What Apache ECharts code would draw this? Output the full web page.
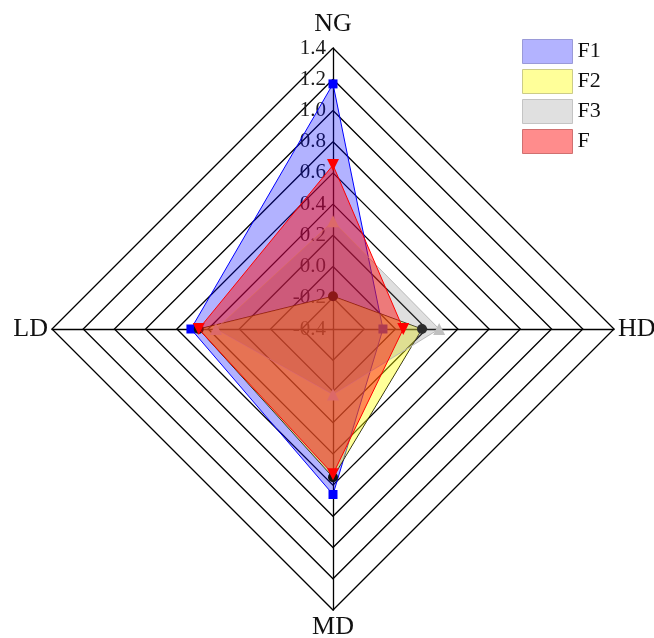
<!DOCTYPE html>
<html>
  <head>
    <meta charset="utf-8" />
    <title>Radar F1 F2 F3 F</title>
    <script src="https://cdn.jsdelivr.net/npm/echarts@6/dist/echarts.min.js"></script>
    <style>
      body { margin: 0; background: #fff; }
      #chart { width: 654px; height: 638px; }
    </style>
  </head>
  <body>
    <div id="chart"></div>
    <script>
      // axes go counter-clockwise from the top: NG, LD, MD, HD
      const indicators = ['NG', 'LD', 'MD', 'HD'];
      const seriesNames = ['F1', 'F2', 'F3', 'F'];
      const valuesF1 = [1.17, 0.51, 0.66, -0.08];
      const valuesF2 = [-0.19, 0.46, 0.55, 0.17];
      const valuesF3 = [0.29, 0.35, 0.02, 0.28];
      const valuesF = [0.65, 0.46, 0.53, 0.05];
      const axisMin = -0.4;
      const axisMax = 1.4;
      const tickStep = 0.2;

      const font = 'Liberation Serif';
      const cx = 333, cy = 329, radius = 281;

      const looks = [
        { line: '#0000ff', fill: 'rgba(0,0,255,0.3)', sym: 'rect', size: 9, mark: '#0000ff', legend: '#b3b3ff', border: '#9a9ad8' },
        { line: '#111111', fill: 'rgba(255,255,0,0.4)', sym: 'circle', size: 10, mark: '#111111', legend: '#ffff99', border: '#cccc88' },
        { line: '#c4c4c4', fill: 'rgba(128,128,128,0.25)', sym: 'triangle', size: 12, mark: '#c0c0c0', legend: '#e0e0e0', border: '#c4c4c4' },
        { line: '#ff0000', fill: 'rgba(255,0,0,0.45)', sym: 'triangle', size: 12, rot: 180, mark: '#ff0000', legend: '#ff8c8c', border: '#d07070' }
      ];
      const allValues = [valuesF1, valuesF2, valuesF3, valuesF];

      const chart = echarts.init(document.getElementById('chart'));
      chart.setOption({
        animation: false,
        backgroundColor: '#fff',
        legend: {
          orient: 'vertical',
          left: 517,
          top: 34,
          itemWidth: 50,
          itemHeight: 24,
          itemGap: 5,
          icon: 'rect',
          textStyle: { fontFamily: font, fontSize: 22, color: '#111' },
          data: seriesNames.map((n, i) => ({
            name: n,
            itemStyle: { color: looks[i].legend, borderColor: looks[i].border, borderWidth: 1 }
          }))
        },
        grid: { left: cx, top: cy - radius, height: radius, width: 1 },
        xAxis: { type: 'value', show: false },
        yAxis: {
          type: 'value',
          min: axisMin,
          max: axisMax,
          interval: tickStep,
          axisLine: { show: false },
          axisTick: { show: false },
          splitLine: { show: false },
          axisLabel: {
            margin: 7,
            fontFamily: font,
            fontSize: 21,
            color: '#1a1a1a',
            formatter: v => v.toFixed(1)
          }
        },
        radar: {
          center: [cx, cy],
          radius: radius,
          shape: 'polygon',
          splitNumber: 9,
          nameGap: 4,
          indicator: indicators.map(n => ({ name: n, min: axisMin, max: axisMax })),
          axisName: {
            color: '#111',
            fontFamily: font,
            fontSize: 26,
            formatter: v => v === 'NG' ? '{ng|' + v + '}' : v,
            rich: { ng: { fontFamily: font, fontSize: 26, color: '#111', padding: [0, 0, 7, 0] } }
          },
          axisLine: { lineStyle: { color: '#000', width: 1.3 } },
          splitLine: { lineStyle: { color: '#000', width: 1.3 } },
          splitArea: { show: false },
          axisTick: { show: false },
          axisLabel: { show: false }
        },
        // each series gets its own z so later fills cover earlier markers
        series: seriesNames.map((n, i) => ({
          name: n,
          type: 'radar',
          z: 2 + i,
          symbol: looks[i].sym,
          symbolSize: looks[i].size,
          symbolRotate: looks[i].rot || 0,
          itemStyle: { color: looks[i].mark },
          lineStyle: { color: looks[i].line, width: 1 },
          areaStyle: { color: looks[i].fill, opacity: 1 },
          data: [{ name: n, value: allValues[i] }]
        }))
      });
    </script>
  </body>
</html>
